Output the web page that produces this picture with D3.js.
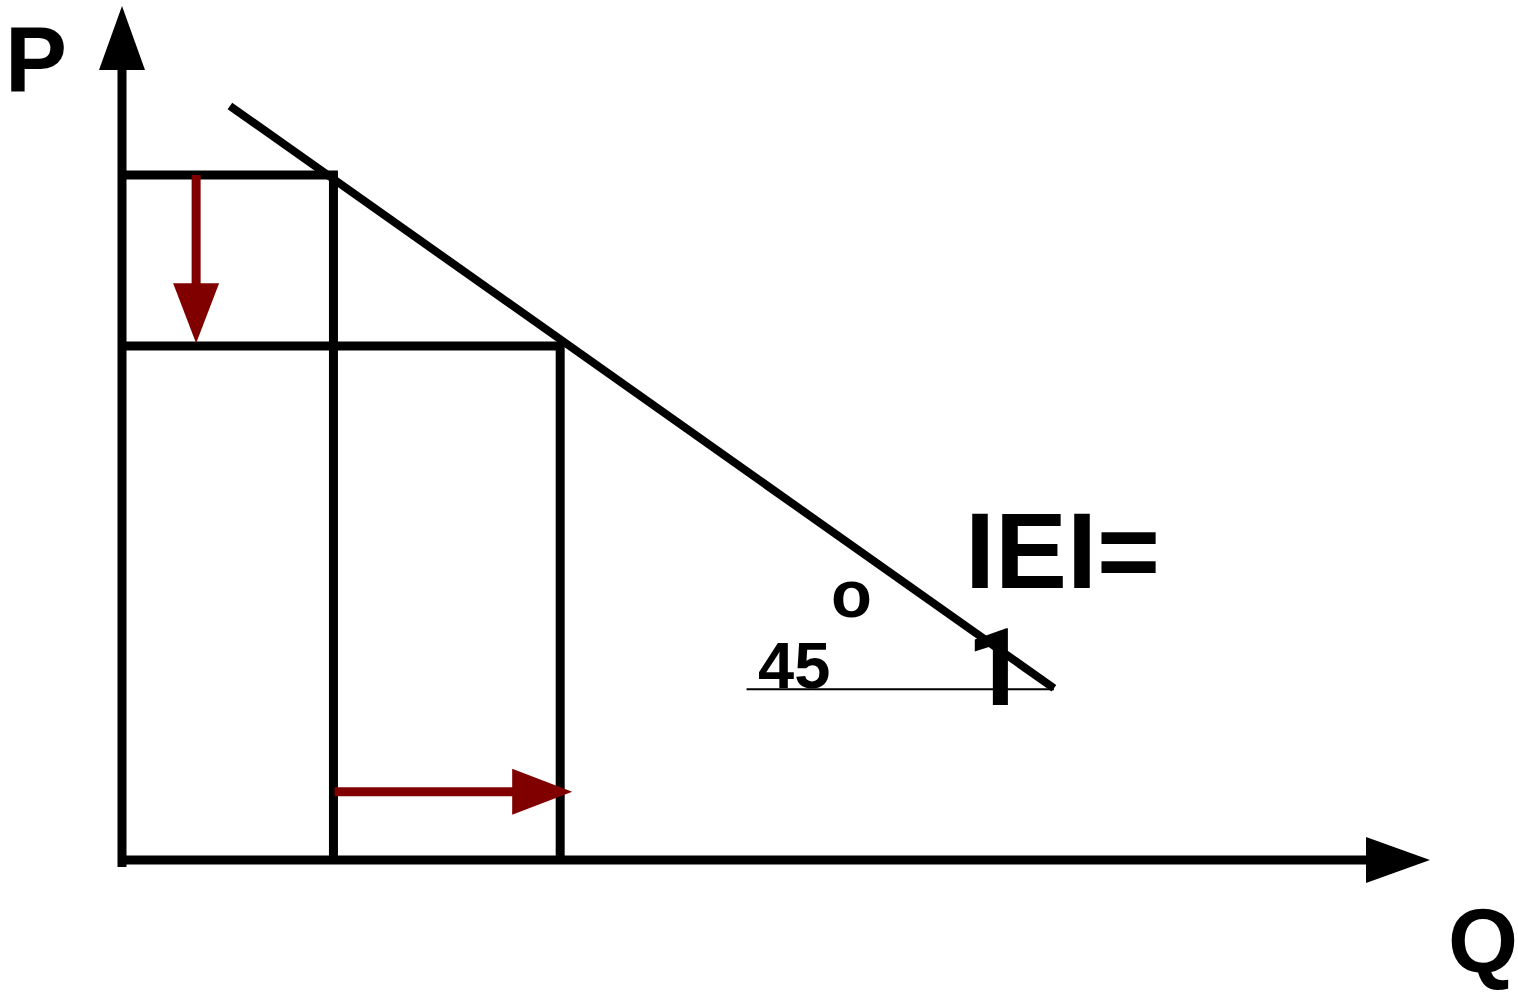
<!DOCTYPE html>
<html>
<head>
<meta charset="utf-8">
<script src="https://cdn.jsdelivr.net/npm/d3@7"></script>
<style>
  body { margin: 0; background: #fff; }
  svg { display: block; }
</style>
</head>
<body>
<script>
// Donnees du schema (unites du modele)
var axisMax = { q: 12, p: 10 }
var demand = [{ q: 0.99, p: 8.83 }, { q: 8.55, p: 2.01 }]
var quantities = [1.94, 4.02]      // Q1, Q2
var prices = [8.02, 6.02]          // P1, P2
var priceArrow = { q: 0.68, from: 8.02, to: 6.05 }
var qtyArrow = { p: 0.8, from: 1.95, to: 4.13 }
var baseLine = { p: 2.0, from: 5.73, to: 8.55 }
var labels = { p: 'P', q: 'Q', elast: 'IEI=', one: '1', angle: '45', degree: 'o' }

var colours = {
    ink: '#000000',
    arrow: '#800000'
}

var width = 1518
var height = 997

var x = d3.scaleLinear().domain([0, axisMax.q]).range([122, 1430])
var y = d3.scaleLinear().domain([0, axisMax.p]).range([860, 6])

var svg = d3.select('body').append('svg')
    .attr('width', width)
    .attr('height', height)

var line = d3.line().x(d => x(d[0])).y(d => y(d[1]))

// fleche pleine (triangle) : pointe en (tx, ty), direction (dx, dy)
function arrowHead(tx, ty, dx, dy, len, half) {
    var bx = tx - dx * len, by = ty - dy * len
    var nx = -dy, ny = dx
    return 'M' + tx + ',' + ty +
        'L' + (bx + nx * half) + ',' + (by + ny * half) +
        'L' + (bx - nx * half) + ',' + (by - ny * half) + 'Z'
}

// Axes
var headLen = 64
svg.append('line')
    .attr('x1', x(0)).attr('y1', y(0) + 7)
    .attr('x2', x(0)).attr('y2', y(axisMax.p) + headLen - 2)
    .attr('stroke', colours.ink).attr('stroke-width', 9)
svg.append('path')
    .attr('d', arrowHead(x(0), y(axisMax.p), 0, -1, headLen, 23))
    .attr('fill', colours.ink)

svg.append('line')
    .attr('x1', x(0)).attr('y1', y(0))
    .attr('x2', x(axisMax.q) - headLen + 2).attr('y2', y(0))
    .attr('stroke', colours.ink).attr('stroke-width', 9)
svg.append('path')
    .attr('d', arrowHead(x(axisMax.q), y(0), 1, 0, headLen, 23))
    .attr('fill', colours.ink)

// Lignes de lecture prix / quantite
quantities.forEach(function (q, i) {
    svg.append('path')
        .attr('d', line([[0, prices[i]], [q, prices[i]], [q, 0]]))
        .attr('fill', 'none')
        .attr('stroke', colours.ink)
        .attr('stroke-width', 9)
})

// Droite de demande
svg.append('path')
    .attr('d', line(demand.map(d => [d.q, d.p])))
    .attr('stroke', colours.ink)
    .attr('stroke-width', 8)

// Fleche baisse du prix
var redHead = 60
svg.append('line')
    .attr('x1', x(priceArrow.q)).attr('y1', y(priceArrow.from))
    .attr('x2', x(priceArrow.q)).attr('y2', y(priceArrow.to) - redHead + 2)
    .attr('stroke', colours.arrow).attr('stroke-width', 9)
svg.append('path')
    .attr('d', arrowHead(x(priceArrow.q), y(priceArrow.to), 0, 1, redHead, 23))
    .attr('fill', colours.arrow)

// Fleche hausse de la quantite
svg.append('line')
    .attr('x1', x(qtyArrow.from)).attr('y1', y(qtyArrow.p))
    .attr('x2', x(qtyArrow.to) - redHead + 2).attr('y2', y(qtyArrow.p))
    .attr('stroke', colours.arrow).attr('stroke-width', 9)
svg.append('path')
    .attr('d', arrowHead(x(qtyArrow.to), y(qtyArrow.p), 1, 0, redHead, 23))
    .attr('fill', colours.arrow)

// Ligne horizontale fine (angle 45)
svg.append('line')
    .attr('x1', x(baseLine.from)).attr('y1', y(baseLine.p))
    .attr('x2', x(baseLine.to)).attr('y2', y(baseLine.p))
    .attr('stroke', colours.ink).attr('stroke-width', 2)

// Textes
var txt = svg.append('g')
    .attr('font-family', '"Liberation Sans", Arial, sans-serif')
    .attr('font-weight', 'bold')
    .attr('fill', colours.ink)

txt.append('text').attr('x', 5).attr('y', 92).attr('font-size', 93).text(labels.p)
txt.append('text').attr('x', 1448).attr('y', 972).attr('font-size', 90).text(labels.q)
txt.append('text').attr('x', 965).attr('y', 588).attr('font-size', 108).text(labels.elast)
// le "1" sans pied (Roboto)
txt.append('text').attr('x', 966).attr('y', 705).attr('font-size', 107)
    .attr('font-family', 'Roboto, sans-serif').text(labels.one)
txt.append('text').attr('x', 758).attr('y', 688).attr('font-size', 65).text(labels.angle)
txt.append('text').attr('x', 831).attr('y', 617).attr('font-size', 67).text(labels.degree)
</script>
</body>
</html>
